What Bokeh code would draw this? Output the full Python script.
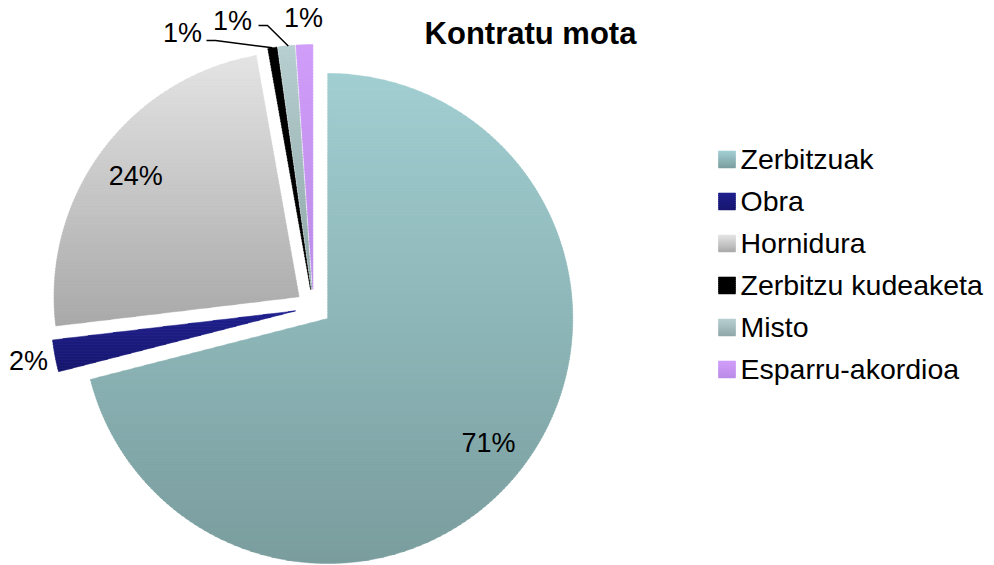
import math
from bokeh.plotting import figure
from bokeh.models import Range1d
from bokeh.embed import file_html
from bokeh.resources import INLINE
from bokeh.core.properties import value

# ---------------- data ----------------
categories = ["Zerbitzuak", "Obra", "Hornidura", "Zerbitzu kudeaketa", "Misto", "Esparru-akordioa"]
shares = [71.0, 2.1, 24.1, 0.6, 1.1, 1.1]
title_text = "Kontratu mota"

# ---------------- style ----------------
top_colors = ["#a2cfd2", "#20208f", "#e4e4e4", "#000000", "#b8cfd1", "#d09df9"]
bottom_colors = ["#7a9d9e", "#16166e", "#a9a9a9", "#000000", "#8fa7a8", "#bb8be8"]
FONT = "Liberation Sans"

W, H = 994, 565
CX, CY = 313, H - 307      # pie centre (data coords, y up)
R = 245
EXPLODE = 18


def hex2rgb(h):
    h = h.lstrip("#")
    return tuple(int(h[i:i + 2], 16) for i in (0, 2, 4))


def mix(c1, c2, t):
    a, b = hex2rgb(c1), hex2rgb(c2)
    return "#%02x%02x%02x" % tuple(int(round(a[i] + (b[i] - a[i]) * t)) for i in range(3))


def clip(poly, y, keep_above):
    out = []
    n = len(poly)
    for i in range(n):
        p1 = poly[i]
        p2 = poly[(i + 1) % n]
        in1 = p1[1] >= y if keep_above else p1[1] <= y
        in2 = p2[1] >= y if keep_above else p2[1] <= y
        if in1:
            out.append(p1)
        if in1 != in2:
            t = (y - p1[1]) / (p2[1] - p1[1])
            out.append((p1[0] + t * (p2[0] - p1[0]), y))
    return out


def gradient_strips(poly, ctop, cbot, step=3.0):
    ys = [q[1] for q in poly]
    ymin, ymax = min(ys), max(ys)
    xs_l, ys_l, cols = [], [], []
    y = ymin
    while y < ymax:
        y1 = min(y + step, ymax)
        part = clip(clip(poly, y, True), y1 + 0.6, False)
        if len(part) >= 3:
            t = (ymax - (y + y1) / 2) / (ymax - ymin) if ymax > ymin else 0
            xs_l.append([q[0] for q in part])
            ys_l.append([q[1] for q in part])
            cols.append(mix(ctop, cbot, t))
        y = y1
    return xs_l, ys_l, cols


p = figure(width=W, height=H, x_range=Range1d(0, W), y_range=Range1d(0, H),
           output_backend="svg", toolbar_location=None, min_border=0,
           x_axis_location=None, y_axis_location=None)
p.grid.visible = False
p.outline_line_color = None
p.background_fill_color = "white"
p.border_fill_color = "white"

total = sum(shares)
cum = 0.0
all_xs, all_ys, all_cols = [], [], []
slice_info = []
for i, v in enumerate(shares):
    a0 = cum / total * 2 * math.pi
    a1 = (cum + v) / total * 2 * math.pi
    cum += v
    m = (a0 + a1) / 2
    vx = CX + EXPLODE * math.sin(m)
    vy = CY + EXPLODE * math.cos(m)
    n = max(4, int((a1 - a0) / 0.01))
    poly = [(vx, vy)]
    for k in range(n + 1):
        a = a0 + (a1 - a0) * k / n
        poly.append((vx + R * math.sin(a), vy + R * math.cos(a)))
    xs_l, ys_l, cols = gradient_strips(poly, top_colors[i], bottom_colors[i])
    all_xs += xs_l
    all_ys += ys_l
    all_cols += cols
    slice_info.append((vx, vy, m))

p.patches(all_xs, all_ys, fill_color=all_cols, line_color=all_cols, line_width=0.5)

# ---------------- data labels ----------------
lab_x, lab_y, lab_t = [], [], []
lines_x, lines_y = [], []
for i, v in enumerate(shares):
    vx, vy, m = slice_info[i]
    txt = "%d%%" % round(v / total * 100)
    if v / total >= 0.05:
        lx = vx + 0.83 * R * math.sin(m)
        ly = vy + 0.83 * R * math.cos(m)
    elif categories[i] in ("Zerbitzu kudeaketa", "Misto"):
        ox = vx + R * math.sin(m)
        oy = vy + R * math.cos(m)
        if categories[i] == "Zerbitzu kudeaketa":
            lx, ly = 182, H - 32
            pts = [(206, H - 40), (215, H - 40), (ox, oy)]
        else:
            lx, ly = 232, H - 20
            pts = [(258, H - 25), (267, H - 25), (ox + 2, oy)]
        lines_x.append([q[0] for q in pts])
        lines_y.append([q[1] for q in pts])
    else:
        lx = vx + (R + 27) * math.sin(m)
        ly = vy + (R + 27) * math.cos(m)
    lab_x.append(lx)
    lab_y.append(ly)
    lab_t.append(txt)

p.multi_line(lines_x, lines_y, line_color="black", line_width=1.5)
p.text(lab_x, lab_y, text=lab_t, text_font=value(FONT), text_font_size="27px",
       text_align="center", text_baseline="middle", text_color="#000000")

# ---------------- title ----------------
p.text([530], [H - 33], text=[title_text], text_font=value(FONT), text_font_size="31px",
       text_font_style="bold", text_align="center", text_baseline="middle", text_color="#000000")

# ---------------- legend ----------------
LX, LY0, LDY, SQ = 718, 159, 42, 17
leg_xs, leg_ys, leg_cols = [], [], []
tx, ty = [], []
for i, c in enumerate(categories):
    cy = H - (LY0 + i * LDY)
    sq = [(LX, cy - SQ / 2), (LX + SQ, cy - SQ / 2), (LX + SQ, cy + SQ / 2), (LX, cy + SQ / 2)]
    xs_l, ys_l, cols = gradient_strips(sq, top_colors[i], bottom_colors[i], step=2.0)
    leg_xs += xs_l
    leg_ys += ys_l
    leg_cols += cols
    tx.append(LX + SQ + 5)
    ty.append(cy + 1)
p.patches(leg_xs, leg_ys, fill_color=leg_cols, line_color=leg_cols, line_width=0.5)
p.text(tx, ty, text=categories, text_font=value(FONT), text_font_size="28.5px",
       text_align="left", text_baseline="middle", text_color="#000000")

open("out.html", "w").write(file_html(p, INLINE))
